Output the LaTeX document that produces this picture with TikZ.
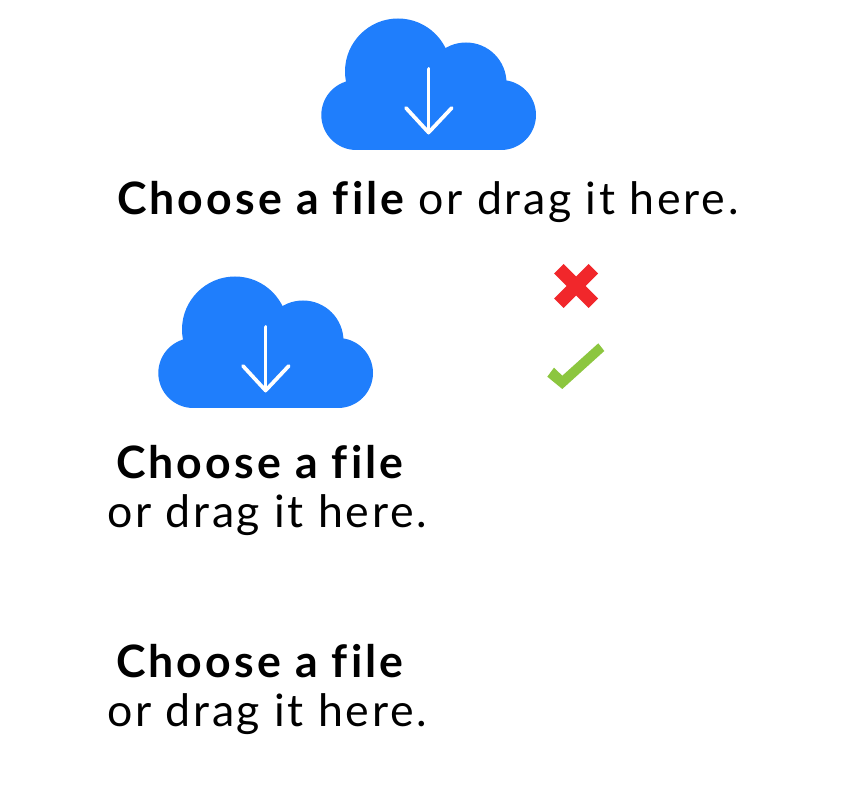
\documentclass[tikz,border=0pt]{standalone}
\usepackage{fontspec}
\setmainfont{Lato}[LetterSpace=6.2,Ligatures=NoCommon,BoldFeatures={LetterSpace=7}]
\definecolor{cloudblue}{HTML}{1F7EFC}
\definecolor{crossred}{HTML}{F1272B}
\definecolor{checkgreen}{HTML}{8CC63F}
\newcommand{\boldlabel}{\fontsize{33.5}{33.5}\selectfont\bfseries Choose a file}
\newcommand{\lightlabel}{\fontsize{33.5}{33.5}\selectfont or drag it here.}
\tikzset{
  label text/.style={anchor=base west,inner sep=0pt,outer sep=0pt,text=black},
  cloud arrow/.style={draw=white,line width=2.8pt,line cap=round,line join=round},
  pics/dlcloud/.style={code={
    \fill[cloudblue] (356.3,115) circle (35) (501,115) circle (35)
      (398,71.5) circle (53) (466,83) circle (40.5);
    \fill[cloudblue] (356,80) rectangle (501,150);
    \draw[cloud arrow] (428.6,69) -- (428.6,132.5);
    \draw[cloud arrow] (406,108) -- (428.6,132.5) -- (451.7,108);
  }}
}
\begin{document}
\begin{tikzpicture}[x=0.75pt,y=-0.75pt]
\useasboundingbox (0,0) rectangle (856,812);
\pic at (0,0) {dlcloud};
\pic at (-163,258) {dlcloud};
\fill[crossred] (563.5,264) -- (576,276.5) -- (588.5,264) -- (598,273.5) -- (585.5,286) -- (598,298.5) -- (588.5,308) -- (576,295.5) -- (563.5,308) -- (554,298.5) -- (566.5,286) -- (554,273.5) -- cycle;
\fill[checkgreen] (547.3,376.7) -- (554,367.7) -- (562.3,375.7) -- (598.3,343.3) -- (604.3,351) -- (562.3,389) -- cycle;
\node[label text] (t1) at (117,214.5) {\boldlabel\ \fontseries{m}\selectfont or drag it here.};
\node[label text] (t2) at (116,478) {\boldlabel};
\node[label text] (t3) at (107,527) {\lightlabel};
\node[label text] (t4) at (116,677) {\boldlabel};
\node[label text] (t5) at (107,726) {\lightlabel};
\end{tikzpicture}
\end{document}
